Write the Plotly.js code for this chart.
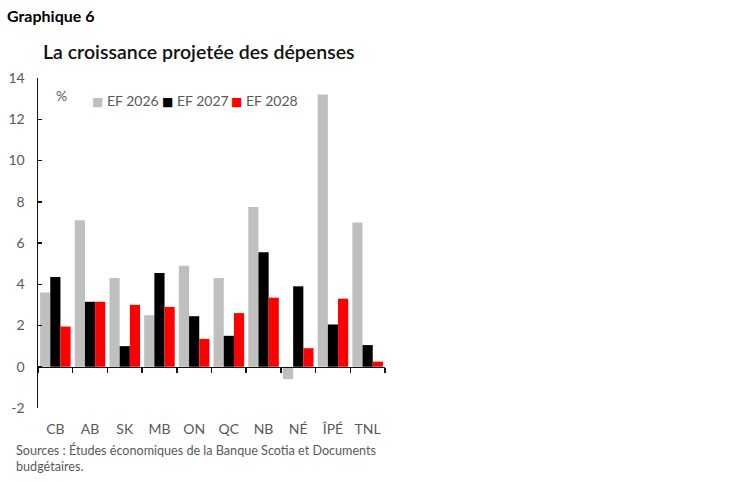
<!DOCTYPE html>
<html><head><meta charset="utf-8">
<script src="https://cdn.plot.ly/plotly-3.0.1.min.js"></script>
<style>body{margin:0;background:#fff}</style></head><body>
<div id="chart" style="width:749px;height:482px"></div>
<script>
const categories = ['CB','AB','SK','MB','ON','QC','NB','NÉ','ÎPÉ','TNL'];
const seriesNames = ['EF 2026','EF 2027','EF 2028'];
const ef2026 = [3.6, 7.1, 4.3, 2.5, 4.9, 4.3, 7.75, -0.6, 13.2, 7.0];
const ef2027 = [4.35, 3.15, 1.0, 4.55, 2.45, 1.5, 5.55, 3.9, 2.05, 1.05];
const ef2028 = [1.95, 3.15, 3.0, 2.9, 1.35, 2.6, 3.35, 0.9, 3.3, 0.25];
const yTickVals = [-2, 0, 2, 4, 6, 8, 10, 12, 14];
const yTickText = ['-2', '0', '2', '4', '6', '8', '10', '12', '14'];
const colors = ['#bfbfbf', '#000000', '#ff0000'];

const FONT = 'Lato, "Open Sans", sans-serif';
const GREY = '#595959';
const series = [ef2026, ef2027, ef2028];

const data = series.map((vals, i) => ({
  type: 'bar', x: categories, y: vals, name: seriesNames[i],
  marker: {color: colors[i], line: {width: 0}},
  hoverinfo: 'x+y+name'
}));

const legendX = [0.150, 0.352, 0.550];
const annotations = seriesNames.map((n, i) => ({
  xref: 'paper', yref: 'paper', x: legendX[i], y: 0.933,
  xanchor: 'left', yanchor: 'middle', showarrow: false,
  text: '<span style="color:' + colors[i] + ';font-family:DejaVu Sans;font-size:12px">■</span> ' + n,
  font: {family: FONT, size: 14, color: GREY}
}));
annotations.push({
  xref: 'paper', yref: 'paper', x: 0.069, y: 0.948, xanchor: 'center', yanchor: 'middle',
  showarrow: false, text: '%', font: {family: FONT, size: 14, color: GREY}
});
annotations.push({
  xref: 'paper', yref: 'paper', x: -0.095, y: 1.19, xanchor: 'left', yanchor: 'middle',
  showarrow: false, text: '<b>Graphique 6</b>', font: {family: FONT, size: 16, color: '#000'}
});
annotations.push({
  xref: 'paper', yref: 'paper', x: -0.07, y: -0.097, xanchor: 'left', yanchor: 'top', align: 'left',
  showarrow: false,
  text: 'Sources : Études économiques de la Banque Scotia et Documents<br>budgétaires.',
  font: {family: FONT, size: 12.6, color: GREY}
});

const layout = {
  width: 749, height: 482,
  margin: {l: 38, r: 364, t: 78, b: 74},
  paper_bgcolor: '#fff', plot_bgcolor: '#fff',
  barmode: 'group', bargap: 0.12, bargroupgap: 0,
  showlegend: false,
  title: {
    text: 'La croissance projetée des dépenses',
    x: 43 / 749, xanchor: 'left', xref: 'container',
    y: 1 - 52 / 482, yanchor: 'middle', yref: 'container',
    font: {family: FONT, size: 19.5, color: '#111', weight: 600}
  },
  xaxis: {
    type: 'category', categoryorder: 'array', categoryarray: categories,
    range: [-0.5, 9.5], fixedrange: true,
    anchor: 'free', position: 0.125,
    showline: true, linecolor: '#111', linewidth: 1.5,
    ticks: 'outside', tickson: 'boundaries', ticklen: 5, tickwidth: 1.5, tickcolor: '#111',
    tickangle: 0,
    ticklabelstandoff: 49,
    showgrid: false, zeroline: false,
    tickfont: {family: FONT, size: 14, color: GREY}
  },
  yaxis: {
    range: [-2, 14], fixedrange: true,
    tickmode: 'array', tickvals: yTickVals, ticktext: yTickText,
    showline: true, linecolor: '#111', linewidth: 1.5,
    ticks: 'inside', ticklen: 4, tickwidth: 1.5, tickcolor: '#111',
    ticklabelstandoff: 9,
    showgrid: false, zeroline: false,
    tickfont: {family: FONT, size: 14, color: GREY}
  },
  annotations: annotations
};

Plotly.newPlot('chart', data, layout, {displayModeBar: false, staticPlot: true});
</script>
</body></html>
